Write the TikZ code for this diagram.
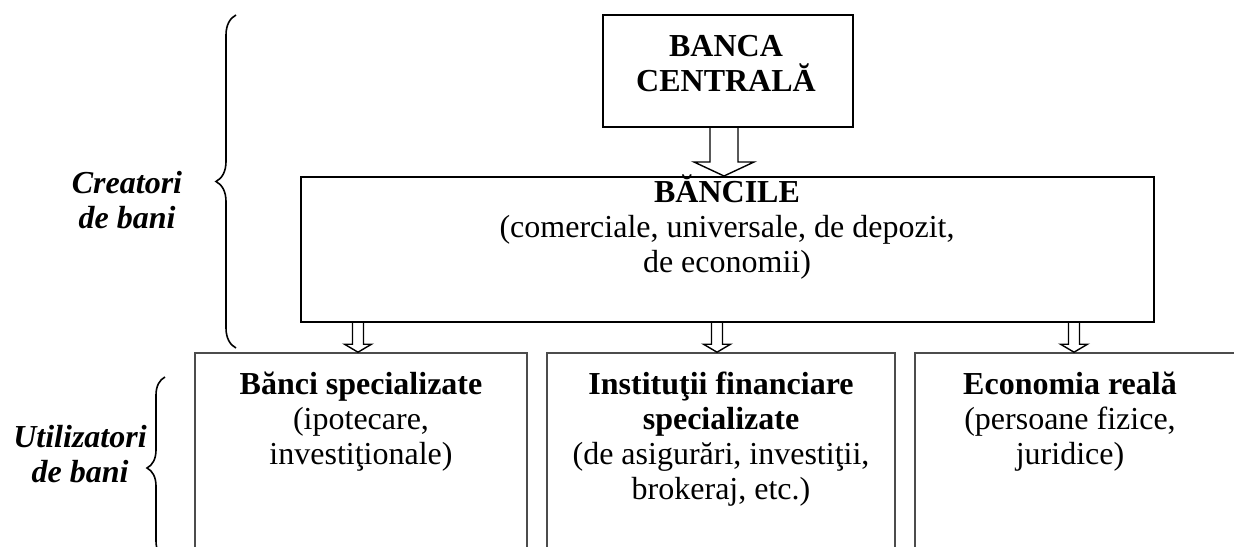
\documentclass[tikz,border=0pt]{standalone}
\usepackage{fontspec}
\setmainfont{Liberation Serif}
\usetikzlibrary{calc, decorations.pathreplacing}

% hollow block arrow: start, end, half shaft, half head, head length
\newcommand{\hollowarrow}[5]{%
    \draw[fill=white, line width=0.7pt] let \p1=(#1), \p2=(#2) in
        (\x1-#3,\y1) -- (\x1-#3,\y2+#5) -- (\x1-#4,\y2+#5) -- (\x1,\y2)
        -- (\x1+#4,\y2+#5) -- (\x1+#3,\y2+#5) -- (\x1+#3,\y1);}

\begin{document}
\begin{tikzpicture}[x=0.5pt, y=-0.5pt,
        box/.style={draw, line width=1pt, inner sep=0pt},
        subbox/.style={draw=black!70, line width=0.8pt, inner sep=0pt, minimum width=#1, minimum height=130pt},
        txt/.style={anchor=base, align=center, font=\fontsize{16}{17.5}\selectfont},
        side/.style={anchor=base, align=center, font=\fontsize{16}{17.5}\selectfont\bfseries\itshape},
        curly/.style={decorate, decoration={brace, amplitude=#1}, line width=0.8pt}]
    \clip (0,0) rectangle (1234,546);
    \node[box, minimum width=125pt, minimum height=56pt] (cb) at (728,71) {};
    \node[box, minimum width=426.5pt, minimum height=72.5pt] (banks) at (727.5,249.5) {};
    \node[subbox=166pt] (b1) at (361,483) {};
    \node[subbox=174pt] (b2) at (721,483) {};
    \node[subbox=165pt] (b3) at (1080,483) {};

    % base = baseline of the last line
    \node[txt] (cbt) at (726,91) {\textbf{BANCA}\\\textbf{CENTRALĂ}};
    \node[txt] (bankst) at (727,272) {\textbf{BĂNCILE}\\(comerciale, universale, de depozit,\\de economii)};
    \node[txt] (b1t) at (361,464) {\textbf{Bănci specializate}\\(ipotecare,\\investiţionale)};
    \node[txt] (b2t) at (721,499) {\textbf{Instituţii financiare}\\\textbf{specializate}\\(de asigurări, investiţii,\\brokeraj, etc.)};
    \node[txt] (b3t) at (1070,464) {\textbf{Economia reală}\\(persoane fizice,\\juridice)};

    \node[side] (creat) at (127,228) {Creatori\\de bani};
    \node[side] (util) at (80,482) {Utilizatori\\de bani};
    \draw[curly=10pt] (236,348) -- (236,15);
    \draw[curly=9pt] (165,559) -- (165,377);

    \coordinate (p0) at (724,0);
    \coordinate (p1) at (358,0);
    \coordinate (p2) at (717,0);
    \coordinate (p3) at (1074,0);
    \hollowarrow{cb.south -| p0}{banks.north -| p0}{7pt}{15pt}{7pt}
    \foreach \c/\bx in {p1/b1, p2/b2, p3/b3} {
        \hollowarrow{banks.south -| \c}{\bx.north -| \c}{2.75pt}{6.75pt}{4pt}
    }
\end{tikzpicture}
\end{document}
